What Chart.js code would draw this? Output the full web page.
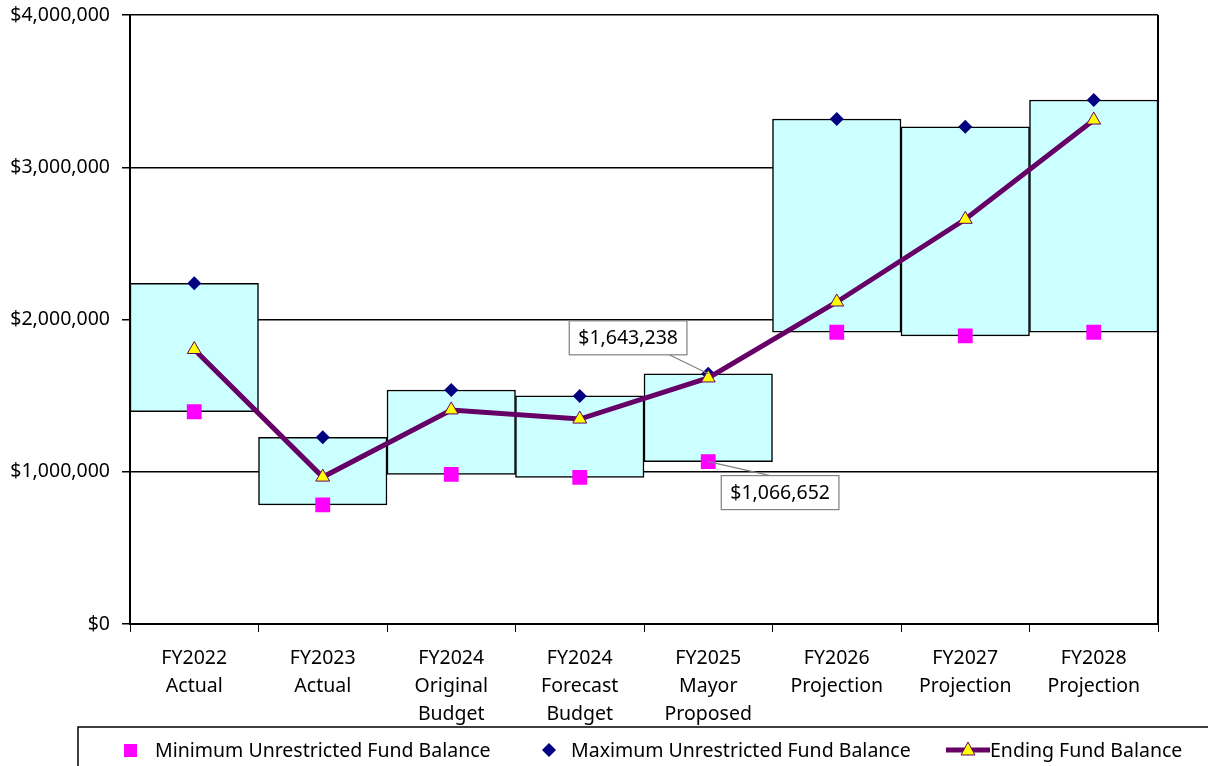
<!DOCTYPE html>
<html>
<head>
<meta charset="utf-8">
<script src="https://cdn.jsdelivr.net/npm/chart.js@4.4.1/dist/chart.umd.min.js"></script>
<style>
    html, body { margin: 0; padding: 0; background: #fff; }
    #wrap { width: 1208px; height: 766px; position: relative; overflow: hidden; }
</style>
</head>
<body>
<div id="wrap"><canvas id="fundChart" width="1208" height="766"></canvas></div>
<script>
// ========================================
// DATA
// ========================================

const categories = [
    ['FY2022', 'Actual'],
    ['FY2023', 'Actual'],
    ['FY2024', 'Original', 'Budget'],
    ['FY2024', 'Forecast', 'Budget'],
    ['FY2025', 'Mayor', 'Proposed'],
    ['FY2026', 'Projection'],
    ['FY2027', 'Projection'],
    ['FY2028', 'Projection']
];

const minBalance = [1394000, 782000, 983000, 963000, 1066652, 1916000, 1892000, 1916000];
const maxBalance = [2238000, 1226000, 1537000, 1498000, 1643238, 3317000, 3266000, 3442000];
const endingBalance = [1803000, 965000, 1406000, 1346000, 1616000, 2115000, 2658000, 3310000];

const yTicks = [0, 1000000, 2000000, 3000000, 4000000];

// which points get a value callout (series, index)
const callouts = [
    { series: 'max', index: 4 },
    { series: 'min', index: 4 }
];

const FONT = "'Noto Sans', 'Open Sans', sans-serif";
const FONT_SIZE = 19.5;

function money(v) {
    return '$' + Math.round(v).toLocaleString('en-US');
}

// ========================================
// PLUGINS
// ========================================

// right edge of plot area
const rightBorder = {
    id: 'rightBorder',
    afterDraw(chart) {
        const { ctx, chartArea } = chart;
        ctx.save();
        ctx.strokeStyle = '#000';
        ctx.lineWidth = 2;
        ctx.beginPath();
        ctx.moveTo(chartArea.right, chartArea.top);
        ctx.lineTo(chartArea.right, chartArea.bottom);
        ctx.stroke();
        ctx.restore();
    }
};

// boxed value labels with leader lines
const valueCallouts = {
    id: 'valueCallouts',
    afterDatasetsDraw(chart) {
        const { ctx } = chart;
        ctx.save();
        ctx.font = FONT_SIZE + 'px ' + FONT;
        callouts.forEach(c => {
            const dsIndex = c.series === 'max' ? 2 : 1;
            const values = c.series === 'max' ? maxBalance : minBalance;
            const pt = chart.getDatasetMeta(dsIndex).data[c.index];
            const text = money(values[c.index]);
            const w = ctx.measureText(text).width + 18;
            const h = 34;
            let bx, by, lx, ly;
            if (c.series === 'max') {
                bx = pt.x - 139; by = pt.y - 53;
                lx = bx + 100; ly = by + h;
            } else {
                bx = pt.x + 13; by = pt.y + 14;
                lx = bx + 49; ly = by;
            }
            ctx.strokeStyle = '#808080';
            ctx.lineWidth = 1.2;
            ctx.beginPath();
            ctx.moveTo(pt.x, pt.y);
            ctx.lineTo(lx, ly);
            ctx.stroke();
            ctx.fillStyle = '#fff';
            ctx.fillRect(bx, by, w, h);
            ctx.strokeRect(bx, by, w, h);
            ctx.fillStyle = '#000';
            ctx.textAlign = 'center';
            ctx.textBaseline = 'middle';
            ctx.fillText(text, bx + w / 2, by + h / 2 + 1);
        });
        ctx.restore();
    }
};

// legend in a box below the chart
const boxLegend = {
    id: 'boxLegend',
    afterDraw(chart) {
        const { ctx } = chart;
        const ds = chart.data.datasets;
        const cy = 751;
        ctx.save();
        ctx.strokeStyle = '#000';
        ctx.lineWidth = 1.5;
        ctx.strokeRect(78, 727, 1200, 60);

        ctx.font = FONT_SIZE + 'px ' + FONT;
        ctx.fillStyle = '#000';
        ctx.textBaseline = 'middle';
        ctx.textAlign = 'left';

        // minimum: square
        ctx.fillStyle = ds[1].pointBackgroundColor;
        ctx.fillRect(124, cy - 7, 13, 13);
        ctx.fillStyle = '#000';
        ctx.fillText(ds[1].label, 155, cy);

        // maximum: diamond
        ctx.fillStyle = ds[2].pointBackgroundColor;
        ctx.beginPath();
        ctx.moveTo(549, cy - 8);
        ctx.lineTo(556, cy - 1);
        ctx.lineTo(549, cy + 6);
        ctx.lineTo(542, cy - 1);
        ctx.closePath();
        ctx.fill();
        ctx.fillStyle = '#000';
        ctx.fillText(ds[2].label, 571, cy);

        // ending: line with triangle
        ctx.strokeStyle = ds[0].borderColor;
        ctx.lineWidth = 5;
        ctx.beginPath();
        ctx.moveTo(946, cy - 1);
        ctx.lineTo(990, cy - 1);
        ctx.stroke();
        ctx.fillStyle = ds[0].pointBackgroundColor;
        ctx.strokeStyle = ds[0].pointBorderColor;
        ctx.lineWidth = 1;
        ctx.beginPath();
        ctx.moveTo(968, cy - 9);
        ctx.lineTo(975, cy + 4);
        ctx.lineTo(961, cy + 4);
        ctx.closePath();
        ctx.fill();
        ctx.stroke();
        ctx.fillStyle = '#000';
        ctx.fillText(ds[0].label, 990, cy);
        ctx.restore();
    }
};

// ========================================
// CHART
// ========================================

function loadChart() {
    const canvas = document.getElementById('fundChart');

    new Chart(canvas, {
        data: {
            labels: categories,
            datasets: [
                {
                    type: 'line',
                    label: 'Ending Fund Balance',
                    data: endingBalance,
                    borderColor: '#660066',
                    borderWidth: 5,
                    tension: 0,
                    pointStyle: 'triangle',
                    pointRadius: 8,
                    pointBackgroundColor: '#FFFF00',
                    pointBorderColor: '#660066',
                    pointBorderWidth: 1,
                    order: 0
                },
                {
                    type: 'line',
                    label: 'Minimum Unrestricted Fund Balance',
                    data: minBalance,
                    showLine: false,
                    pointStyle: 'rect',
                    pointRadius: 10.5,
                    pointBackgroundColor: '#FF00FF',
                    pointBorderWidth: 0,
                    order: 1
                },
                {
                    type: 'line',
                    label: 'Maximum Unrestricted Fund Balance',
                    data: maxBalance,
                    showLine: false,
                    pointStyle: 'rectRot',
                    pointRadius: 7,
                    pointBackgroundColor: '#000080',
                    pointBorderWidth: 0,
                    order: 1
                },
                {
                    type: 'bar',
                    label: 'Range',
                    data: categories.map((c, i) => [minBalance[i], maxBalance[i]]),
                    backgroundColor: '#CCFFFF',
                    borderColor: '#000',
                    borderWidth: 1.5,
                    borderSkipped: false,
                    barPercentage: 1,
                    categoryPercentage: 1,
                    order: 5
                }
            ]
        },
        options: {
            responsive: false,
            animation: false,
            layout: {
                padding: { top: 15, right: 50, left: 0, bottom: 0 }
            },
            plugins: {
                legend: { display: false },
                tooltip: { enabled: false }
            },
            scales: {
                x: {
                    offset: true,
                    grid: {
                        offset: true,
                        drawOnChartArea: false,
                        tickLength: 8,
                        color: '#000',
                        lineWidth: 1
                    },
                    border: { color: '#000', width: 2 },
                    ticks: {
                        color: '#000',
                        autoSkip: false,
                        maxRotation: 0,
                        padding: 12,
                        font: { family: FONT, size: FONT_SIZE, lineHeight: 1.44 }
                    },
                    afterFit(scale) {
                        scale.height = 142;
                        scale.paddingLeft = 0;
                        scale.paddingRight = 0;
                    }
                },
                y: {
                    min: yTicks[0],
                    max: yTicks[yTicks.length - 1],
                    afterBuildTicks(scale) {
                        scale.ticks = yTicks.map(v => ({ value: v }));
                    },
                    grid: {
                        color: '#000',
                        lineWidth: 1.5,
                        tickLength: 8
                    },
                    border: { color: '#000', width: 2 },
                    ticks: {
                        color: '#000',
                        padding: 12,
                        font: { family: FONT, size: FONT_SIZE },
                        callback: v => money(v)
                    },
                    afterFit(scale) {
                        scale.width = 130;
                        scale.paddingTop = 0;
                        scale.paddingBottom = 0;
                    }
                }
            }
        },
        plugins: [rightBorder, valueCallouts, boxLegend]
    });
}

document.addEventListener('DOMContentLoaded', loadChart);
</script>
</body>
</html>
